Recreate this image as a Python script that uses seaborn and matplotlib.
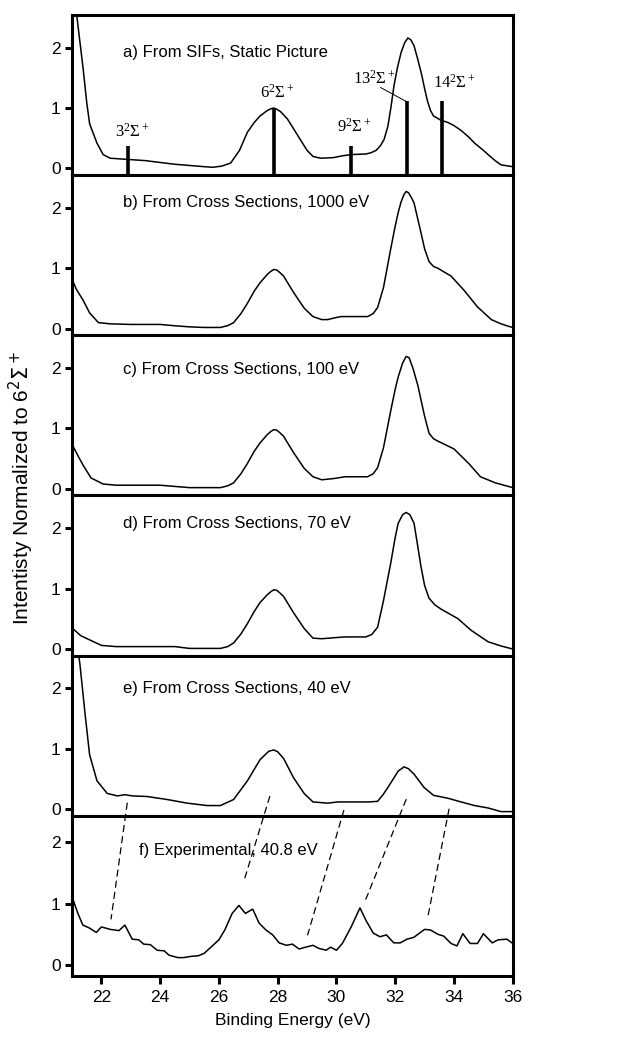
import matplotlib
matplotlib.use("Agg")
import matplotlib.pyplot as plt
import seaborn as sns
import numpy as np
from matplotlib.patches import ConnectionPatch

# ---------------- data ----------------
a_x = [21.08, 21.17, 21.38, 21.5, 21.6, 21.85, 22.06, 22.3, 22.9, 23.5, 24.0, 24.5, 25.0, 25.5, 25.8,
       26.1, 26.4, 26.7, 26.97, 27.2, 27.4, 27.65, 27.78, 27.87, 27.97, 28.1, 28.33, 28.55, 28.78, 29.0,
       29.2, 29.46, 29.9, 30.2, 30.5, 31.0, 31.17, 31.35, 31.5, 31.62, 31.75, 31.85, 31.96, 32.08, 32.2,
       32.32, 32.43, 32.53, 32.64, 32.77, 32.9, 33.0, 33.1, 33.2, 33.3, 33.55, 33.8, 34.0, 34.24, 34.5,
       34.7, 35.0, 35.16, 35.4, 35.6, 36.0]
a_y = [3.0, 2.5, 1.65, 1.1, 0.74, 0.42, 0.23, 0.17, 0.15, 0.13, 0.1, 0.07, 0.05, 0.03, 0.02,
       0.04, 0.09, 0.3, 0.6, 0.76, 0.87, 0.96, 0.99, 1.0, 0.98, 0.94, 0.82, 0.65, 0.47, 0.3,
       0.2, 0.17, 0.18, 0.21, 0.23, 0.24, 0.26, 0.3, 0.38, 0.48, 0.7, 1.0, 1.38, 1.68, 1.92,
       2.08, 2.16, 2.13, 2.03, 1.8, 1.55, 1.32, 1.11, 0.96, 0.87, 0.8, 0.76, 0.71, 0.63, 0.52,
       0.42, 0.3, 0.23, 0.13, 0.06, 0.03]

b_x = [21.0, 21.15, 21.38, 21.6, 21.9, 22.3, 23.0, 24.0, 24.45, 25.0, 25.5, 26.05, 26.3, 26.5, 26.75,
       26.97, 27.2, 27.4, 27.65, 27.77, 27.87, 27.97, 28.07, 28.2, 28.54, 28.9, 29.2, 29.5, 29.7, 29.95,
       30.15, 30.6, 31.06, 31.25, 31.4, 31.6, 31.85, 32.0, 32.1, 32.2, 32.3, 32.37, 32.45, 32.55, 32.64,
       32.75, 32.87, 33.0, 33.15, 33.3, 33.45, 33.9, 34.35, 34.8, 35.27, 35.6, 35.85, 36.0]
b_y = [0.82, 0.65, 0.47, 0.26, 0.1, 0.08, 0.07, 0.07, 0.05, 0.03, 0.02, 0.02, 0.05, 0.1, 0.25,
       0.42, 0.62, 0.76, 0.9, 0.95, 0.98, 0.97, 0.93, 0.87, 0.6, 0.34, 0.2, 0.15, 0.15, 0.18,
       0.2, 0.2, 0.2, 0.25, 0.35, 0.68, 1.33, 1.7, 1.92, 2.1, 2.22, 2.27, 2.25, 2.17, 2.08,
       1.85, 1.6, 1.32, 1.11, 1.03, 1.0, 0.87, 0.63, 0.36, 0.15, 0.08, 0.04, 0.02]

c_x = [21.0, 21.2, 21.38, 21.65, 22.06, 22.5, 23.5, 24.0, 24.5, 25.0, 26.05, 26.3, 26.5, 26.75, 26.97,
       27.2, 27.4, 27.65, 27.77, 27.87, 27.97, 28.07, 28.2, 28.54, 28.9, 29.2, 29.5, 29.9, 30.3, 31.06,
       31.25, 31.4, 31.6, 31.85, 32.0, 32.1, 32.25, 32.37, 32.47, 32.6, 32.77, 32.9, 33.0, 33.15, 33.3,
       33.45, 34.0, 34.5, 34.9, 35.4, 36.0]
c_y = [0.74, 0.55, 0.39, 0.18, 0.08, 0.06, 0.06, 0.06, 0.04, 0.02, 0.02, 0.05, 0.1, 0.25, 0.42,
       0.62, 0.76, 0.9, 0.95, 0.98, 0.97, 0.93, 0.87, 0.6, 0.34, 0.2, 0.15, 0.17, 0.2, 0.2,
       0.25, 0.35, 0.68, 1.3, 1.65, 1.85, 2.08, 2.19, 2.17, 2.0, 1.71, 1.42, 1.2, 0.92, 0.83,
       0.79, 0.66, 0.42, 0.2, 0.1, 0.02]

d_x = [21.0, 21.3, 21.65, 22.0, 22.5, 24.5, 25.0, 26.05, 26.3, 26.5, 26.75, 26.97, 27.2, 27.4, 27.65,
       27.77, 27.87, 27.97, 28.07, 28.2, 28.54, 28.9, 29.2, 29.5, 30.0, 30.3, 31.0, 31.2, 31.4, 31.6,
       31.85, 32.0, 32.1, 32.25, 32.37, 32.5, 32.64, 32.75, 32.87, 33.0, 33.15, 33.35, 33.56, 34.14, 34.58,
       35.16, 35.6, 36.0]
d_y = [0.35, 0.22, 0.14, 0.06, 0.04, 0.04, 0.01, 0.01, 0.04, 0.1, 0.25, 0.42, 0.62, 0.77, 0.9,
       0.95, 0.98, 0.97, 0.93, 0.87, 0.6, 0.34, 0.18, 0.17, 0.19, 0.2, 0.2, 0.24, 0.36, 0.8,
       1.43, 1.85, 2.08, 2.22, 2.26, 2.22, 2.08, 1.75, 1.38, 1.05, 0.84, 0.73, 0.66, 0.5, 0.31,
       0.12, 0.05, 0.0]

e_x = [21.1, 21.27, 21.44, 21.6, 21.85, 22.2, 22.55, 22.8, 23.05, 23.55, 24.24, 24.92, 25.6, 26.05, 26.5,
       26.97, 27.4, 27.7, 27.87, 28.0, 28.2, 28.54, 28.9, 29.2, 29.7, 30.05, 31.1, 31.4, 31.6, 31.75,
       32.1, 32.3, 32.45, 32.64, 32.98, 33.3, 33.8, 34.24, 34.7, 35.16, 35.6, 36.0]
e_y = [3.0, 2.4, 1.6, 0.9, 0.47, 0.26, 0.22, 0.24, 0.22, 0.21, 0.16, 0.1, 0.06, 0.06, 0.16,
       0.47, 0.82, 0.96, 0.98, 0.95, 0.84, 0.52, 0.26, 0.12, 0.1, 0.12, 0.12, 0.13, 0.25, 0.36,
       0.63, 0.7, 0.67, 0.58, 0.36, 0.23, 0.18, 0.12, 0.06, 0.02, -0.04, -0.04]

f_x = [21.04, 21.2, 21.37, 21.6, 21.83, 22.0, 22.3, 22.6, 22.8, 23.05, 23.27, 23.44, 23.67, 23.9, 24.14,
       24.3, 24.6, 24.8, 25.05, 25.3, 25.5, 25.75, 26.0, 26.2, 26.45, 26.68, 26.9, 27.15, 27.37, 27.6,
       27.83, 28.05, 28.3, 28.5, 28.73, 28.95, 29.2, 29.4, 29.65, 29.8, 30.0, 30.2, 30.5, 30.8, 31.0,
       31.25, 31.48, 31.7, 31.95, 32.17, 32.4, 32.63, 33.0, 33.2, 33.45, 33.65, 33.9, 34.1, 34.3, 34.55,
       34.8, 35.0, 35.3, 35.5, 35.8, 36.0]
f_y = [1.06, 0.84, 0.65, 0.6, 0.53, 0.62, 0.58, 0.56, 0.65, 0.42, 0.41, 0.34, 0.33, 0.24, 0.23,
       0.16, 0.12, 0.12, 0.14, 0.15, 0.19, 0.3, 0.41, 0.57, 0.84, 0.97, 0.84, 0.91, 0.68, 0.57,
       0.49, 0.36, 0.32, 0.34, 0.26, 0.29, 0.32, 0.27, 0.24, 0.29, 0.24, 0.35, 0.62, 0.93, 0.73,
       0.52, 0.46, 0.49, 0.36, 0.36, 0.42, 0.45, 0.58, 0.57, 0.5, 0.47, 0.35, 0.31, 0.51, 0.35,
       0.35, 0.51, 0.36, 0.41, 0.42, 0.35]

panel_titles = ["a) From SIFs, Static Picture", "b) From Cross Sections, 1000 eV",
                "c) From Cross Sections, 100 eV", "d) From Cross Sections, 70 eV",
                "e) From Cross Sections, 40 eV", "f) Experimental, 40.8 eV"]

# SIF stick spectrum (panel a)
stick_x = [22.92, 27.87, 30.51, 32.40, 33.58]
stick_h = [0.38, 1.0, 0.37, 1.11, 1.12]
stick_labels = [r"$3^2\Sigma^+$", r"$6^2\Sigma^+$", r"$9^2\Sigma^+$", r"$13^2\Sigma^+$", r"$14^2\Sigma^+$"]
stick_label_x = [23.04, 27.99, 30.6, 31.28, 34.0]
stick_label_y = [0.63, 1.27, 0.70, 1.50, 1.44]

# dashed correlation lines from panel e to panel f
dash_e_x = [22.88, 27.73, 30.25, 32.37, 33.83]
dash_e_y = [0.10, 0.21, -0.02, 0.16, 0.0]
dash_f_x = [22.33, 26.84, 29.02, 30.94, 33.10]
dash_f_y = [0.75, 1.35, 0.49, 1.00, 0.76]

x_ticks = [22, 24, 26, 28, 30, 32, 34, 36]
y_ticks = [0, 1, 2]

# ---------------- style ----------------
sns.set_theme(style="ticks")
plt.rcParams["font.family"] = ["Liberation Sans", "DejaVu Sans"]
plt.rcParams["mathtext.fontset"] = "custom"
plt.rcParams["mathtext.rm"] = "Liberation Serif"
plt.rcParams["mathtext.it"] = "Liberation Serif:italic"
plt.rcParams["mathtext.bf"] = "Liberation Serif:bold"

fig = plt.figure(figsize=(6.37, 10.47), dpi=100)
gs = fig.add_gridspec(6, 1, left=0.113, right=0.805, top=0.9857, bottom=0.0678, hspace=0)
axes = [fig.add_subplot(gs[i]) for i in range(6)]

series = [(a_x, a_y), (b_x, b_y), (c_x, c_y), (d_x, d_y), (e_x, e_y), (f_x, f_y)]
title_pos = [(22.74, 1.92), (22.74, 2.08), (22.74, 1.97), (22.74, 2.08), (22.74, 2.0), (23.27, 1.87)]

for i, ax in enumerate(axes):
    xs, ys = series[i]
    sns.lineplot(x=xs, y=ys, ax=ax, color="black", linewidth=1.1, estimator=None, sort=False)
    ax.set_xlim(21, 36)
    if i == 5:
        ax.set_ylim(-0.18, 2.43)
    else:
        ax.set_ylim(-0.11, 2.54)
    ax.set_yticks(y_ticks)
    ax.set_yticklabels([str(t) for t in y_ticks])
    for s in ax.spines.values():
        s.set_visible(True)
        s.set_linewidth(2.2)
        s.set_color("black")
    ax.tick_params(axis="y", direction="out", length=5, width=2.2, labelsize=12.5, pad=3,
                   colors="black")
    if i < 5:
        ax.tick_params(axis="x", bottom=False, labelbottom=False)
    else:
        ax.set_xticks(x_ticks)
        ax.set_xticklabels([str(t) for t in x_ticks])
        ax.tick_params(axis="x", direction="out", length=6, width=2.2, labelsize=12.5, pad=4,
                       colors="black")
    tx, ty = title_pos[i]
    ax.text(tx, ty, panel_titles[i], fontsize=12, ha="left", va="center", color="black")
    ax.set_xlabel("")
    ax.set_ylabel("")

# panel a sticks
ax = axes[0]
ax.vlines(stick_x, -0.11, stick_h, color="black", linewidth=2.6)
for lx, ly, lab in zip(stick_label_x, stick_label_y, stick_labels):
    ax.text(lx, ly, lab, fontsize=12, ha="center", va="center", color="black")
ax.plot([31.5, 32.37], [1.34, 1.11], color="black", linewidth=0.7)

# dashed correlation lines
for xe, ye, xf, yf in zip(dash_e_x, dash_e_y, dash_f_x, dash_f_y):
    con = ConnectionPatch(xyA=(xe, ye), coordsA=axes[4].transData,
                          xyB=(xf, yf), coordsB=axes[5].transData,
                          color="black", linewidth=0.9, linestyle=(0, (5, 4)))
    fig.add_artist(con)

axes[5].set_xlabel("Binding Energy (eV)", fontsize=12.5, labelpad=6, color="black")
fig.text(0.034, 0.534, "Intentisty Normalized to 6$^2\\Sigma^+$", rotation=90, fontsize=15,
         ha="center", va="center", math_fontfamily="dejavusans", color="black")

fig.savefig("out.png", dpi=100)
